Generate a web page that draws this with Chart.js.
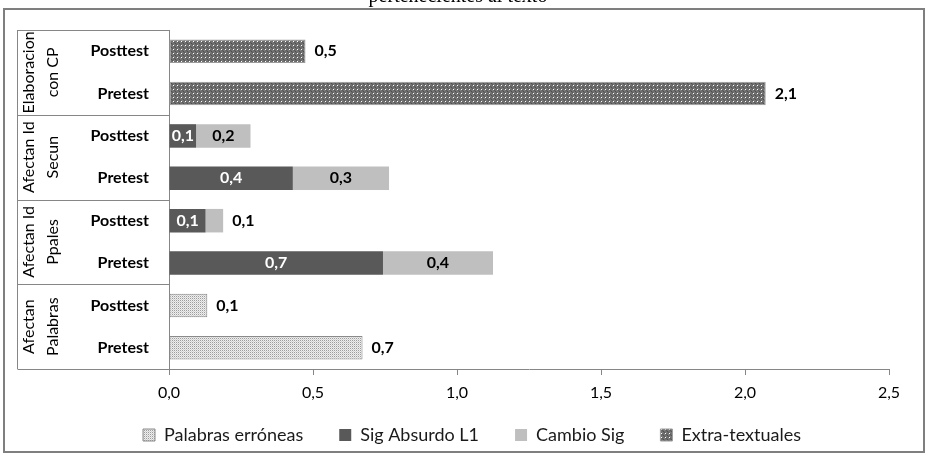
<!DOCTYPE html>
<html>
<head>
<meta charset="utf-8">
<script src="https://cdn.jsdelivr.net/npm/chart.js@4"></script>
<style>
  html, body { margin: 0; padding: 0; background: #fff; }
  #wrap { position: relative; width: 928px; height: 456px; }
</style>
</head>
<body>
<div id="wrap"><canvas id="c" width="928" height="456"></canvas></div>
<script>
// ---- data ----
const titleText = "pertenecientes al texto";
const categories = ["Posttest", "Pretest", "Posttest", "Pretest", "Posttest", "Pretest", "Posttest", "Pretest"];
const groupLabels = [["Elaboracion", "con CP"], ["Afectan Id", "Secun"], ["Afectan Id", "Ppales"], ["Afectan", "Palabras"]];
const seriesNames = ["Palabras erróneas", "Sig Absurdo L1", "Cambio Sig", "Extra-textuales"];
const palabrasErroneas = [null, null, null, null, null, null, 0.133, 0.672];
const sigAbsurdoL1   = [null, null, 0.094, 0.430, 0.127, 0.743, null, null];
const cambioSig      = [null, null, 0.189, 0.334, 0.061, 0.382, null, null];
const extraTextuales = [0.474, 2.072, null, null, null, null, null, null];
const xTicks = [0, 0.5, 1.0, 1.5, 2.0, 2.5];

// ---- patterns ----
function makePattern(size, base, pixels) {
  const c = document.createElement('canvas');
  c.width = size; c.height = size;
  const g = c.getContext('2d');
  g.fillStyle = base; g.fillRect(0, 0, size, size);
  pixels.forEach(p => { g.fillStyle = p[2]; g.fillRect(p[0], p[1], 1, 1); });
  return c.getContext('2d').createPattern(c, 'repeat');
}
const dotsLight = makePattern(2, '#eeeeee', [[0, 0, '#9c9c9c'], [1, 1, '#d2d2d2']]);
const dotsDark = makePattern(4, '#6e6e6e', [
  [0, 0, '#5a5a5a'], [2, 2, '#5a5a5a'], [0, 2, '#808080'], [2, 0, '#808080'],
  [1, 1, '#ffffff'], [3, 3, '#4e4e4e']
]);

const FONT = 'Lato, Carlito, "Liberation Sans", sans-serif';
const AXIS = '#868686';

const fmt = v => v.toFixed(1).replace('.', ',');

const decorPlugin = {
  id: 'decor',
  afterLayout(chart) {
    if (chart.legend) { chart.legend.left = 55; }
    // let the x tick labels extend below the (narrow) axis box without clipping
    if (chart.scales.x) { chart.scales.x.bottom += 20; }
  },
  beforeDraw(chart) {
    const ctx = chart.ctx;
    ctx.save();
    ctx.fillStyle = '#fff';
    ctx.fillRect(0, 0, chart.width, chart.height);
    ctx.strokeStyle = '#7f7f7f';
    ctx.lineWidth = 2;
    ctx.strokeRect(4, 9, 920, 443);
    ctx.restore();
  },
  afterDraw(chart) {
    const ctx = chart.ctx;
    const area = chart.chartArea;
    const y = chart.scales.y;
    ctx.save();
    // title (partly cut at top)
    ctx.font = '20px "Liberation Serif", serif';
    ctx.fillStyle = '#000';
    ctx.textAlign = 'center';
    ctx.textBaseline = 'alphabetic';
    ctx.fillText(titleText, 458, 2);
    // group boxes
    ctx.strokeStyle = AXIS;
    ctx.lineWidth = 1;
    const xLeft = 17.5;
    const bounds = [area.top];
    for (let g = 1; g < groupLabels.length; g++) {
      bounds.push((y.getPixelForValue(2 * g - 1) + y.getPixelForValue(2 * g)) / 2);
    }
    bounds.push(area.bottom);
    ctx.beginPath();
    ctx.moveTo(xLeft, area.top);
    ctx.lineTo(xLeft, area.bottom);
    bounds.forEach(b => {
      const yy = Math.round(b) + 0.5;
      ctx.moveTo(xLeft, yy);
      ctx.lineTo(area.left, yy);
    });
    ctx.stroke();
    // group labels rotated
    ctx.fillStyle = '#000';
    ctx.font = '16px ' + FONT;
    ctx.textAlign = 'center';
    ctx.textBaseline = 'middle';
    groupLabels.forEach((lines, g) => {
      const cy = (bounds[g] + bounds[g + 1]) / 2;
      lines.forEach((t, i) => {
        ctx.save();
        ctx.translate(29 + i * 24, cy);
        ctx.rotate(-Math.PI / 2);
        ctx.fillText(t, 0, 0);
        ctx.restore();
      });
    });
    ctx.restore();
  },
  afterDatasetsDraw(chart) {
    const ctx = chart.ctx;
    ctx.save();
    ctx.font = 'bold 16px ' + FONT;
    ctx.textBaseline = 'middle';
    chart.data.datasets.forEach((ds, di) => {
      const meta = chart.getDatasetMeta(di);
      meta.data.forEach((el, i) => {
        const v = ds.data[i];
        if (v === null || v === undefined) return;
        const txt = fmt(v);
        const w = ctx.measureText(txt).width;
        const left = Math.min(el.x, el.base), right = Math.max(el.x, el.base);
        const inside = ds.labelPlacement === 'center' && (right - left) > w + 4;
        if (inside) {
          ctx.textAlign = 'center';
          ctx.fillStyle = ds.labelColor;
          ctx.fillText(txt, (left + right) / 2, el.y);
        } else {
          ctx.textAlign = 'left';
          ctx.fillStyle = '#000';
          ctx.fillText(txt, right + 9, el.y);
        }
      });
    });
    ctx.restore();
  }
};

new Chart(document.getElementById('c'), {
  type: 'bar',
  data: {
    labels: categories,
    datasets: [
      { label: seriesNames[0], data: palabrasErroneas, backgroundColor: dotsLight, borderColor: '#8a8a8a', borderWidth: 1, borderSkipped: false, labelPlacement: 'end', labelColor: '#000' },
      { label: seriesNames[1], data: sigAbsurdoL1, backgroundColor: '#595959', borderWidth: 0, labelPlacement: 'center', labelColor: '#fff' },
      { label: seriesNames[2], data: cambioSig, backgroundColor: '#bfbfbf', borderWidth: 0, labelPlacement: 'center', labelColor: '#000' },
      { label: seriesNames[3], data: extraTextuales, backgroundColor: dotsDark, borderColor: '#9a9a9a', borderWidth: 1, borderSkipped: false, labelPlacement: 'end', labelColor: '#000' }
    ]
  },
  options: {
    indexAxis: 'y',
    responsive: false,
    animation: false,
    devicePixelRatio: 1,
    barPercentage: 0.555,
    categoryPercentage: 1.0,
    layout: { padding: { top: 30, right: 39, left: 0, bottom: 2 } },
    scales: {
      x: {
        stacked: true,
        min: 0, max: 2.5,
        afterBuildTicks: s => { s.ticks = xTicks.map(v => ({ value: v })); },
        afterFit: s => { s.height = 21; },
        ticks: { callback: v => fmt(v), font: { family: FONT, size: 16 }, color: '#000', padding: 8, maxRotation: 0, autoSkip: false },
        grid: { display: true, drawOnChartArea: false, drawTicks: true, tickLength: 6, color: AXIS },
        border: { display: true, color: AXIS, width: 1 }
      },
      y: {
        stacked: true,
        offset: true,
        afterFit: s => { s.width = 169; },
        ticks: { font: { family: FONT, size: 16, weight: 'bold' }, color: '#000', padding: 20 },
        grid: { display: false, drawTicks: false },
        border: { display: true, color: AXIS, width: 1 }
      }
    },
    plugins: {
      legend: {
        position: 'bottom',
        labels: { font: { family: FONT, size: 18 }, color: '#1a1a1a', boxWidth: 12, boxHeight: 12, padding: 36 }
      },
      tooltip: { enabled: false },
      title: { display: false }
    }
  },
  plugins: [decorPlugin]
});
</script>
</body>
</html>
